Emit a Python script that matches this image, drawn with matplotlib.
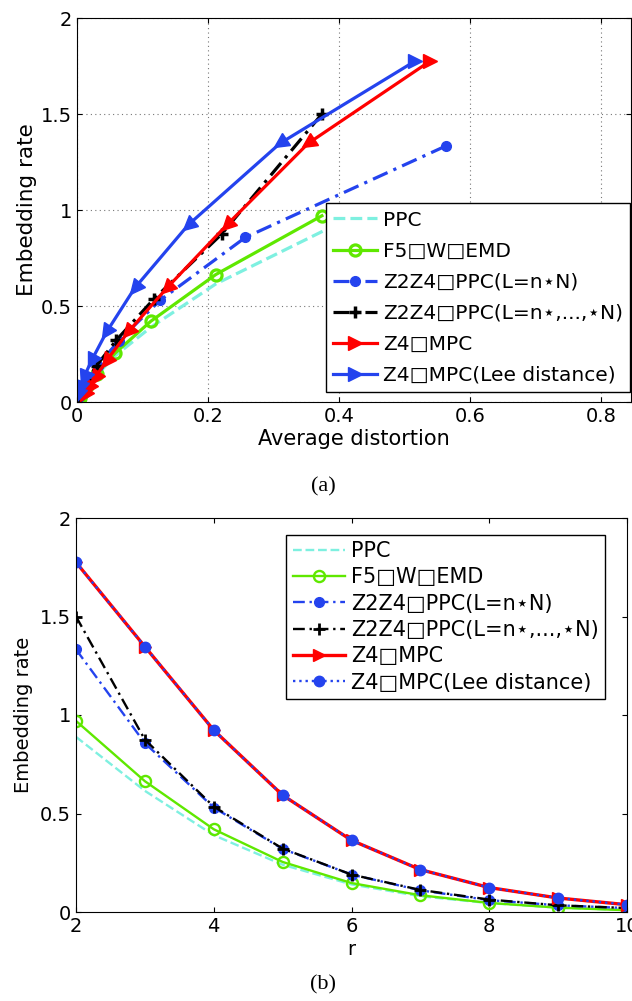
import matplotlib
matplotlib.use("Agg")
import matplotlib.pyplot as plt
import numpy as np
from matplotlib.markers import MarkerStyle
from matplotlib.transforms import Affine2D

plt.rcParams["font.family"] = ["DejaVu Sans"]

# r = 2..10
r_vals = np.arange(2, 11)

labels = [
    "PPC",
    "F5\u25a1W\u25a1EMD",
    "Z2Z4\u25a1PPC(L=n\u22c6N)",
    "Z2Z4\u25a1PPC(L=n\u22c6,...,\u22c6N)",
    "Z4\u25a1MPC",
    "Z4\u25a1MPC(Lee distance)",
]

# embedding rates
rate_ppc = [0.889, 0.615, 0.39, 0.24, 0.14, 0.08, 0.045, 0.022, 0.01]
rate_f5 = [0.97, 0.664, 0.42, 0.254, 0.147, 0.085, 0.046, 0.022, 0.009]
rate_z2z4_a = [1.333, 0.857, 0.53, 0.32, 0.19, 0.11, 0.06, 0.034, 0.02]
rate_z2z4_b = [1.50, 0.875, 0.535, 0.322, 0.19, 0.112, 0.063, 0.034, 0.02]
rate_z4 = [1.775, 1.347, 0.923, 0.593, 0.364, 0.215, 0.124, 0.071, 0.037]
rate_z4_lee = [1.775, 1.347, 0.923, 0.593, 0.364, 0.215, 0.124, 0.071, 0.037]

# average distortion
dist_ppc = [0.375, 0.212, 0.113, 0.058, 0.03, 0.015, 0.008, 0.004, 0.002]
dist_f5 = [0.374, 0.212, 0.1125, 0.058, 0.030, 0.015, 0.008, 0.004, 0.0]
dist_z2z4_a = [0.563, 0.257, 0.127, 0.064, 0.032, 0.016, 0.008, 0.004, 0.002]
dist_z2z4_b = [0.374, 0.221, 0.117, 0.06, 0.03, 0.015, 0.008, 0.004, 0.002]
dist_z4 = [0.539, 0.353, 0.229, 0.137, 0.078, 0.045, 0.027, 0.017, 0.010]
dist_z4_lee = [0.516, 0.31, 0.17, 0.088, 0.045, 0.022, 0.01, 0.005, 0.002]

CYAN = "#7ef0e0"
GREEN = "#5fe800"
BLUE = "#2443ee"
RED = "#ff0000"


def arrow_line(ax, xs, ys, color, label, ms=10.5, lw=2.3):
    ax.plot(xs, ys, "-", color=color, lw=lw, marker=">", ms=ms,
            markevery=[0], label=label)
    pts = ax.transData.transform(np.column_stack([xs, ys]))
    for i in range(1, len(xs)):
        d = pts[i] - pts[i - 1]
        ang = np.degrees(np.arctan2(d[1], d[0]))
        m = MarkerStyle(">", transform=Affine2D().rotate_deg(ang))
        ax.plot([xs[i]], [ys[i]], linestyle="none", marker=m, ms=ms,
                color=color)


fig = plt.figure(figsize=(6.32, 10.01), dpi=100)

# ---- (a) ----
ax1 = fig.add_axes([77 / 632, 1 - 402 / 1001, 554 / 632, 384 / 1001])
ax1.set_xlim(0, 0.846)
ax1.set_ylim(0, 2)
ax1.plot(dist_ppc, rate_ppc, "--", color=CYAN, lw=2.3, label=labels[0])
ax1.plot(dist_f5, rate_f5, "-", color=GREEN, lw=2.3, marker="o", ms=8,
         mfc="none", mew=2.3, label=labels[1])
ax1.plot(dist_z2z4_a, rate_z2z4_a, color=BLUE, lw=2.3,
         linestyle=(0, (5, 2, 1, 2)), marker="o", ms=7, label=labels[2])
ax1.plot(dist_z2z4_b, rate_z2z4_b, color="black", lw=2.3,
         linestyle=(0, (5, 2, 1, 2)), marker="+", ms=8, mew=2.5,
         label=labels[3])
arrow_line(ax1, dist_z4, rate_z4, RED, labels[4])
arrow_line(ax1, dist_z4_lee, rate_z4_lee, BLUE, labels[5])
ax1.set_xticks([0, 0.2, 0.4, 0.6, 0.8])
ax1.set_xticklabels(["0", "0.2", "0.4", "0.6", "0.8"])
ax1.set_yticks([0, 0.5, 1, 1.5, 2])
ax1.set_yticklabels(["0", "0.5", "1", "1.5", "2"])
ax1.grid(True, linestyle=(0, (1, 3)), color="#777777", lw=0.8)
ax1.tick_params(direction="in", top=True, right=True, labelsize=14)
ax1.set_xlabel("Average distortion", fontsize=15, labelpad=2)
ax1.set_ylabel("Embedding rate", fontsize=15.5, labelpad=3)
leg1 = ax1.legend(loc="lower right", bbox_to_anchor=(630 / 632, 1 - 392 / 1001),
                  bbox_transform=fig.transFigure, borderaxespad=0,
                  fontsize=14.5, handlelength=2.2, handletextpad=0.3,
                  labelspacing=0.6, fancybox=False, edgecolor="black",
                  framealpha=1, borderpad=0.35)
leg1.get_frame().set_linewidth(1.0)

# ---- (b) ----
ax2 = fig.add_axes([76 / 632, 1 - 912 / 1001, 551 / 632, 394 / 1001])
ax2.set_xlim(2, 10)
ax2.set_ylim(0, 2)
ax2.plot(r_vals, rate_ppc, "--", color=CYAN, lw=1.7, label=labels[0])
ax2.plot(r_vals, rate_f5, "-", color=GREEN, lw=1.7, marker="o", ms=8,
         mfc="none", mew=1.7, label=labels[1])
ax2.plot(r_vals, rate_z2z4_a, color=BLUE, lw=1.7,
         linestyle=(0, (5, 2, 1, 2)), marker="o", ms=7, label=labels[2])
ax2.plot(r_vals, rate_z2z4_b, color="black", lw=1.7,
         linestyle=(0, (5, 2, 1, 2)), marker="+", ms=8, mew=2,
         label=labels[3])
ax2.plot(r_vals, rate_z4, "-", color=RED, lw=2.4, marker=">", ms=9,
         label=labels[4])
ax2.plot(r_vals, rate_z4_lee, ":", color=BLUE, lw=1.7, marker="o", ms=7.5,
         label=labels[5])
ax2.set_xticks([2, 4, 6, 8, 10])
ax2.set_yticks([0, 0.5, 1, 1.5, 2])
ax2.set_yticklabels(["0", "0.5", "1", "1.5", "2"])
ax2.tick_params(direction="in", top=True, right=True, labelsize=14)
ax2.set_xlabel("r", fontsize=14, labelpad=3)
ax2.set_ylabel("Embedding rate", fontsize=14, labelpad=5)
leg2 = ax2.legend(loc="upper right", bbox_to_anchor=(605 / 632, 1 - 535 / 1001),
                  bbox_transform=fig.transFigure, borderaxespad=0,
                  fontsize=15, handlelength=2.5, handletextpad=0.3,
                  labelspacing=0.3, fancybox=False, edgecolor="black",
                  framealpha=1, borderpad=0.3)
leg2.get_frame().set_linewidth(1.0)

fig.text(323 / 632, 1 - 487 / 1001, "(a)", ha="center", va="center",
         fontsize=16, family=["Liberation Serif"])
fig.text(323 / 632, 1 - 985 / 1001, "(b)", ha="center", va="center",
         fontsize=16, family=["Liberation Serif"])

fig.savefig("out.png", dpi=100)
